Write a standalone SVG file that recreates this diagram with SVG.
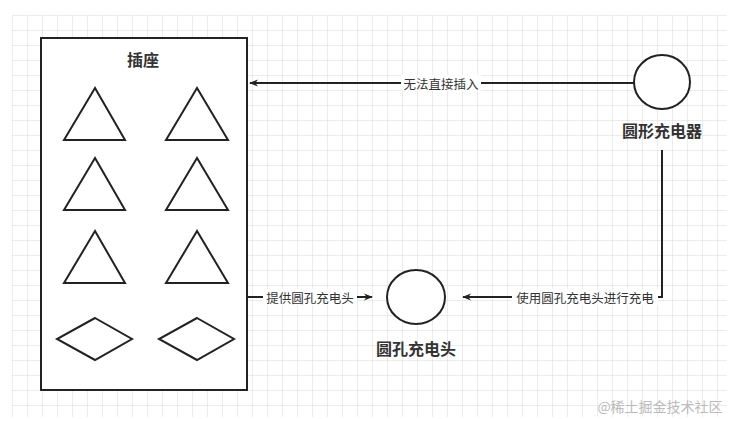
<svg xmlns="http://www.w3.org/2000/svg" width="734" height="421" viewBox="0 0 734 421">
<defs>
<pattern id="grid" x="12" y="15" width="15" height="15" patternUnits="userSpaceOnUse">
<path d="M0 0H15M0 0V15" fill="none" stroke="#d9d9d9" stroke-width="1"/>
</pattern>
<marker id="arr" viewBox="0 0 10 10" refX="9" refY="5" markerWidth="9" markerHeight="9" orient="auto" markerUnits="userSpaceOnUse">
<path d="M0 1L10 5L0 9L3 5Z" fill="#222"/>
</marker>
<style>
.s{fill:#fff;stroke:#222;stroke-width:2}
.c{fill:none;stroke:#222;stroke-width:2}
.t{font-family:"Noto Sans CJK SC",sans-serif;font-size:12.5px;fill:#333;text-anchor:middle;dominant-baseline:central}
.b{font-family:"Noto Sans CJK SC",sans-serif;font-size:16px;font-weight:bold;fill:#333;text-anchor:middle;dominant-baseline:central}
.lb{fill:#fff}
</style>
</defs>
<rect width="734" height="421" fill="#fff"/>
<rect x="12" y="15" width="715" height="402" fill="url(#grid)"/>
<g id="socket">
<rect class="s" x="41" y="38" width="206" height="352"/>
<text class="b" x="143" y="59">插座</text>
<path class="s" d="M95 88L64 140H125Z"/>
<path class="s" d="M197 88L166 140H228Z"/>
<path class="s" d="M95 158L64 210H125Z"/>
<path class="s" d="M197 158L166 210H228Z"/>
<path class="s" d="M95 231L64 283H125Z"/>
<path class="s" d="M197 231L166 283H228Z"/>
<path class="s" d="M95 318L132 339L95 360L57 339Z"/>
<path class="s" d="M197 318L234 339L197 360L159 339Z"/>
</g>
<g id="round-charger">
<ellipse class="s" cx="662" cy="82" rx="28" ry="27"/>
<text class="b" x="662" y="130">圆形充电器</text>
</g>
<g id="round-plug">
<ellipse class="s" cx="416" cy="297" rx="29" ry="27"/>
<text class="b" x="416" y="348">圆孔充电头</text>
</g>
<g id="connectors">
<path class="c" d="M634 83H250" marker-end="url(#arr)"/>
<rect class="lb" x="401" y="75" width="80" height="16"/>
<text class="t" x="441" y="83">无法直接插入</text>
<path class="c" d="M662 150V297H463" marker-end="url(#arr)"/>
<rect class="lb" x="512" y="289" width="146" height="16"/>
<text class="t" x="585" y="297">使用圆孔充电头进行充电</text>
<path class="c" d="M248 297H372" marker-end="url(#arr)"/>
<rect class="lb" x="263" y="289" width="94" height="16"/>
<text class="t" x="310" y="297">提供圆孔充电头</text>
</g>
<text x="660" y="406" font-family="'Noto Sans CJK SC',sans-serif" font-size="14" fill="#bbb" text-anchor="middle" dominant-baseline="central">@稀土掘金技术社区</text>
</svg>
